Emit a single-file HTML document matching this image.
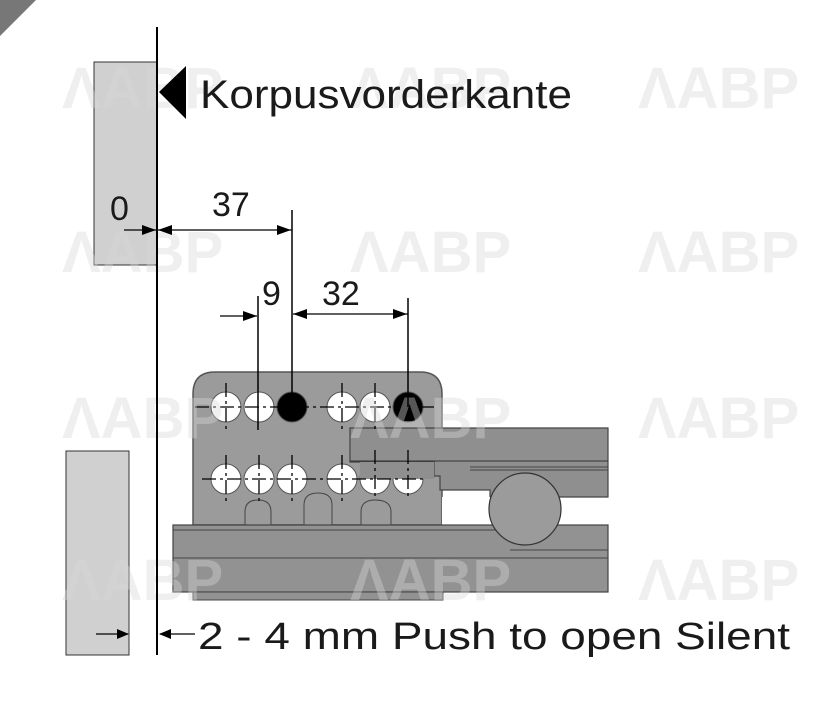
<!DOCTYPE html>
<html><head><style>body{margin:0;background:#fff}svg{display:block}</style></head><body>
<svg width="839" height="703" viewBox="0 0 839 703" xmlns="http://www.w3.org/2000/svg" font-family="Liberation Sans, DejaVu Sans, sans-serif">
<polygon points="0,0 36,0 0,36" fill="#777"/>
<rect x="94" y="62" width="63" height="203" fill="#d0d0d0" stroke="#333" stroke-width="1"/>
<rect x="66" y="451" width="63" height="204" fill="#d0d0d0" stroke="#333" stroke-width="1"/>
<!-- plate -->
<path d="M193,525 V394 Q193,372 215,372 H420 Q442,372 442,394 V525 Z" fill="#9b9b9b" stroke="#555" stroke-width="1.5"/>
<path d="M245,525 V512 Q245,500 258,500 Q271,500 271,512 V525 Z" fill="#9b9b9b" stroke="#444"/>
<path d="M304,525 V505 Q304,493 318,493 Q332,493 332,505 V525 Z" fill="#9b9b9b" stroke="#444"/>
<path d="M361,525 V512 Q361,500 375,500 Q391,500 391,512 V525 Z" fill="#9b9b9b" stroke="#444"/>
<g stroke="#555" stroke-width="1">
<circle cx="226" cy="407" r="15" fill="#fff"/><circle cx="259" cy="407" r="15" fill="#fff"/>
<circle cx="292" cy="407" r="15" fill="#000"/><circle cx="342" cy="407" r="15" fill="#fff"/>
<circle cx="375" cy="407" r="15" fill="#fff"/><circle cx="408" cy="407" r="15" fill="#000"/>
<circle cx="226" cy="479" r="15" fill="#fff"/><circle cx="259" cy="479" r="15" fill="#fff"/>
<circle cx="292" cy="479" r="15" fill="#fff"/><circle cx="342" cy="479" r="15" fill="#fff"/>
<circle cx="375" cy="479" r="15" fill="#fff"/><circle cx="408" cy="479" r="15" fill="#fff"/>
</g>
<!-- arm -->
<path d="M350,428 H608 V497 H490 V490 H440 V476 H434 V462 H350 Z" fill="#8f8f8f" stroke="#444" stroke-width="1.2"/>
<rect x="360" y="462" width="74" height="17" fill="#8f8f8f"/>
<line x1="350" y1="461" x2="608" y2="461" stroke="#333"/>
<line x1="470" y1="467" x2="608" y2="467" stroke="#444"/>
<line x1="470" y1="470" x2="608" y2="470" stroke="#444"/>
<rect x="442" y="497" width="48" height="28" fill="#fff"/>
<!-- rail -->
<rect x="173" y="525" width="435" height="67" fill="#929292" stroke="#444" stroke-width="1.2"/>
<line x1="173" y1="530" x2="510" y2="530" stroke="#444"/>
<line x1="173" y1="558" x2="608" y2="558" stroke="#444"/>
<line x1="510" y1="550" x2="608" y2="550" stroke="#444"/>
<rect x="193" y="592" width="250" height="8" fill="#929292" stroke="#444"/>
<circle cx="525" cy="509" r="36" fill="#9b9b9b" stroke="#333" stroke-width="1.2"/>
<!-- centerlines -->
<g stroke="#000" stroke-width="1.3" stroke-dasharray="14,4,3,4">
<line x1="195" y1="407" x2="435" y2="407"/><line x1="202" y1="479" x2="425" y2="479"/>
<line x1="226" y1="383" x2="226" y2="432"/><line x1="342" y1="383" x2="342" y2="432"/>
<line x1="375" y1="383" x2="375" y2="432"/>
<line x1="226" y1="455" x2="226" y2="505"/><line x1="259" y1="455" x2="259" y2="505"/>
<line x1="292" y1="455" x2="292" y2="505"/><line x1="342" y1="455" x2="342" y2="505"/>
<line x1="375" y1="450" x2="375" y2="500"/><line x1="408" y1="450" x2="408" y2="500"/>
</g>
<!-- watermarks -->
<g font-size="58" font-weight="bold" fill="#d6d6d6" fill-opacity="0.4">
<text x="62" y="108">ΛABP</text><text x="350" y="108">ΛABP</text><text x="638" y="108">ΛABP</text>
<text x="62" y="272">ΛABP</text><text x="350" y="272">ΛABP</text><text x="638" y="272">ΛABP</text>
<text x="62" y="438">ΛABP</text><text x="350" y="438">ΛABP</text><text x="638" y="438">ΛABP</text>
<text x="62" y="600">ΛABP</text><text x="350" y="600">ΛABP</text><text x="638" y="600">ΛABP</text>
</g>
<line x1="157" y1="27" x2="157" y2="655" stroke="#000" stroke-width="2"/>
<polygon points="159,92 186,66 186,119" fill="#000"/>
<text x="200" y="108" font-size="40" fill="#1a1a1a" textLength="372" lengthAdjust="spacingAndGlyphs">Korpusvorderkante</text>
<text x="110" y="220" font-size="34" fill="#1a1a1a">0</text>
<text x="212" y="216" font-size="34" fill="#1a1a1a">37</text>
<line x1="124" y1="230" x2="292" y2="230" stroke="#000" stroke-width="1.3"/>
<polygon points="156,230 142,225 142,235" fill="#000"/>
<polygon points="158,230 172,225 172,235" fill="#000"/>
<polygon points="291,230 277,225 277,235" fill="#000"/>
<line x1="292" y1="210" x2="292" y2="407" stroke="#000" stroke-width="1.5"/>
<text x="262" y="305" font-size="34" fill="#1a1a1a">9</text>
<text x="322" y="305" font-size="34" fill="#1a1a1a">32</text>
<line x1="220" y1="316" x2="257" y2="316" stroke="#000" stroke-width="1.3"/>
<polygon points="257,316 243,311 243,321" fill="#000"/>
<line x1="293" y1="314" x2="408" y2="314" stroke="#000" stroke-width="1.3"/>
<polygon points="293,314 307,309 307,319" fill="#000"/>
<polygon points="407,314 393,309 393,319" fill="#000"/>
<line x1="258" y1="296" x2="258" y2="430" stroke="#000" stroke-width="1.5"/>
<line x1="408" y1="298" x2="408" y2="407" stroke="#000" stroke-width="1.5"/>
<line x1="96" y1="634" x2="128" y2="634" stroke="#000" stroke-width="1.3"/>
<polygon points="129,634 117,629 117,639" fill="#000"/>
<line x1="160" y1="634" x2="195" y2="634" stroke="#000" stroke-width="1.3"/>
<polygon points="159,634 171,629 171,639" fill="#000"/>
<text x="198" y="649" font-size="38" fill="#1a1a1a" textLength="592" lengthAdjust="spacingAndGlyphs">2 - 4 mm Push to open Silent</text>
</svg>
</body></html>
